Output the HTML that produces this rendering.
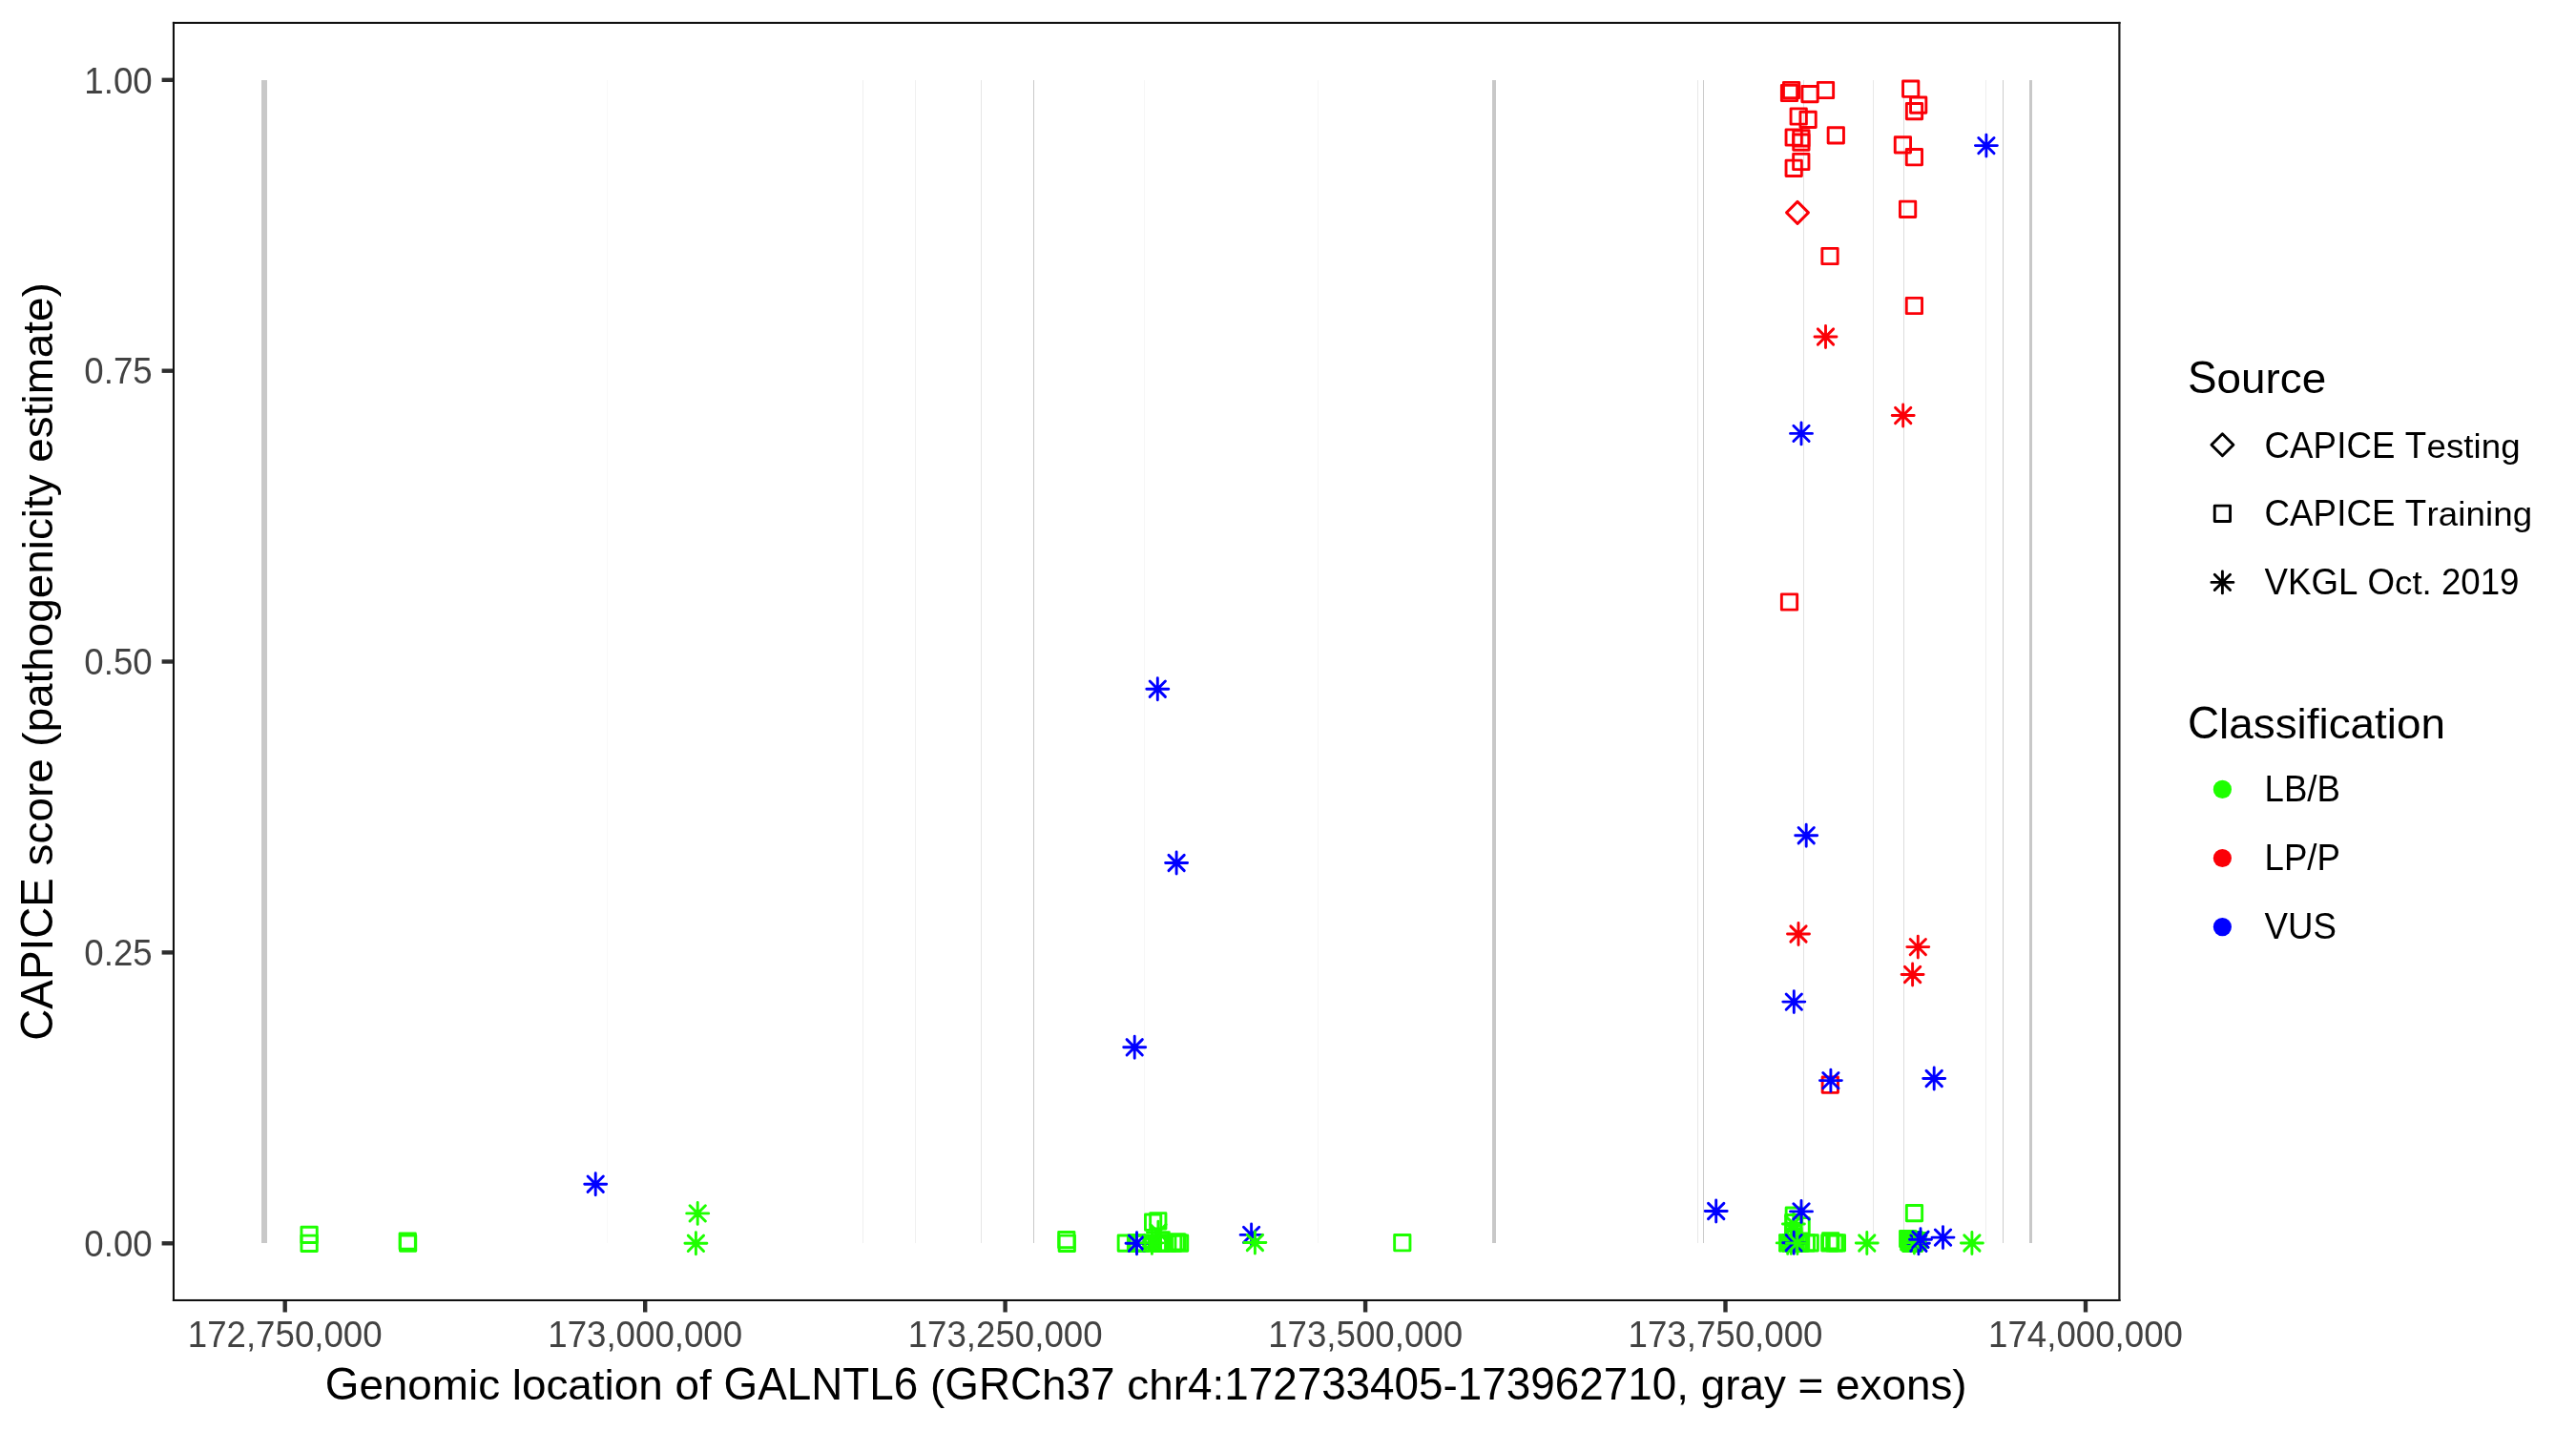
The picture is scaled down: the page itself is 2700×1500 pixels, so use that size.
<!DOCTYPE html>
<html><head><meta charset="utf-8"><title>CAPICE GALNTL6</title>
<style>html,body{margin:0;padding:0;background:#fff;}svg{display:block;font-family:"Liberation Sans",sans-serif;will-change:transform;font-kerning:none;white-space:pre;-webkit-font-smoothing:antialiased;}</style></head><body>
<svg width="2700" height="1500" viewBox="0 0 2700 1500">
<rect width="2700" height="1500" fill="#ffffff"/>
<g shape-rendering="crispEdges">
<rect x="274.0" y="83.9" width="5.90" height="1218.90" fill="#c8c8c8"/>
<rect x="636" y="83.9" width="1.00" height="1218.90" fill="#f8f8f8"/>
<rect x="904" y="83.9" width="1.00" height="1218.90" fill="#f0f0f0"/>
<rect x="959" y="83.9" width="1.00" height="1218.90" fill="#f0f0f0"/>
<rect x="1028" y="83.9" width="1.00" height="1218.90" fill="#e6e6e6"/>
<rect x="1083" y="83.9" width="1.00" height="1218.90" fill="#c8c8c8"/>
<rect x="1199" y="83.9" width="1.00" height="1218.90" fill="#f6f6f6"/>
<rect x="1381" y="83.9" width="1.00" height="1218.90" fill="#f6f6f6"/>
<rect x="1564" y="83.9" width="4.00" height="1218.90" fill="#c8c8c8"/>
<rect x="1779" y="83.9" width="1.00" height="1218.90" fill="#e8e8e8"/>
<rect x="1785" y="83.9" width="1.00" height="1218.90" fill="#cccccc"/>
<rect x="1890" y="83.9" width="1.00" height="1218.90" fill="#e2e2e2"/>
<rect x="1963" y="83.9" width="1.00" height="1218.90" fill="#e8e8e8"/>
<rect x="1995" y="83.9" width="1.00" height="1218.90" fill="#dcdcdc"/>
<rect x="2081" y="83.9" width="1.00" height="1218.90" fill="#eeeeee"/>
<rect x="2099" y="83.9" width="1.00" height="1218.90" fill="#cccccc"/>
<rect x="2127" y="83.9" width="3.00" height="1218.90" fill="#c8c8c8"/>
</g>
<g fill="none" stroke-width="2.9" stroke-linecap="round" stroke-linejoin="round">
<rect x="315.95" y="1286.25" width="16.30" height="16.30" stroke="#1eff00"/>
<rect x="315.95" y="1295.15" width="16.30" height="16.30" stroke="#1eff00"/>
<rect x="419.05" y="1292.95" width="16.30" height="16.30" stroke="#1eff00"/>
<rect x="419.45" y="1295.05" width="16.30" height="16.30" stroke="#1eff00"/>
<path d="M616.05 1233.05L632.35 1249.35M616.05 1249.35L632.35 1233.05M612.70 1241.20L635.70 1241.20M624.20 1229.70L624.20 1252.70" stroke="#0000ff"/>
<path d="M723.05 1263.75L739.35 1280.05M723.05 1280.05L739.35 1263.75M719.70 1271.90L742.70 1271.90M731.20 1260.40L731.20 1283.40" stroke="#1eff00"/>
<path d="M721.25 1295.15L737.55 1311.45M721.25 1311.45L737.55 1295.15M717.90 1303.30L740.90 1303.30M729.40 1291.80L729.40 1314.80" stroke="#1eff00"/>
<rect x="1109.65" y="1291.45" width="16.30" height="16.30" stroke="#1eff00"/>
<rect x="1110.15" y="1295.15" width="16.30" height="16.30" stroke="#1eff00"/>
<rect x="1172.15" y="1294.95" width="16.30" height="16.30" stroke="#1eff00"/>
<rect x="1182.35" y="1294.95" width="16.30" height="16.30" stroke="#1eff00"/>
<rect x="1184.15" y="1294.95" width="16.30" height="16.30" stroke="#1eff00"/>
<rect x="1187.85" y="1294.95" width="16.30" height="16.30" stroke="#1eff00"/>
<path d="M1183.35 1295.05L1199.65 1311.35M1183.35 1311.35L1199.65 1295.05M1180.00 1303.20L1203.00 1303.20M1191.50 1291.70L1191.50 1314.70" stroke="#0000ff"/>
<rect x="1200.45" y="1273.05" width="16.30" height="16.30" stroke="#1eff00"/>
<rect x="1205.65" y="1271.65" width="16.30" height="16.30" stroke="#1eff00"/>
<path d="M1205.75 1283.65L1222.05 1299.95M1205.75 1299.95L1222.05 1283.65M1202.40 1291.80L1225.40 1291.80M1213.90 1280.30L1213.90 1303.30" stroke="#1eff00"/>
<rect x="1204.50" y="1295.00" width="11" height="16.5" fill="#1eff00" stroke="none"/>
<rect x="1200.25" y="1294.95" width="16.30" height="16.30" stroke="#1eff00"/>
<rect x="1207.55" y="1294.95" width="16.30" height="16.30" stroke="#1eff00"/>
<rect x="1209.35" y="1294.95" width="16.30" height="16.30" stroke="#1eff00"/>
<rect x="1215.65" y="1294.95" width="16.30" height="16.30" stroke="#1eff00"/>
<rect x="1221.55" y="1294.95" width="16.30" height="16.30" stroke="#1eff00"/>
<rect x="1224.85" y="1293.85" width="16.30" height="16.30" stroke="#1eff00"/>
<rect x="1225.85" y="1293.85" width="16.30" height="16.30" stroke="#1eff00"/>
<rect x="1228.45" y="1294.95" width="16.30" height="16.30" stroke="#1eff00"/>
<path d="M1199.25 1294.75L1215.55 1311.05M1199.25 1311.05L1215.55 1294.75M1195.90 1302.90L1218.90 1302.90M1207.40 1291.40L1207.40 1314.40" stroke="#1eff00"/>
<path d="M1205.15 714.05L1221.45 730.35M1205.15 730.35L1221.45 714.05M1201.80 722.20L1224.80 722.20M1213.30 710.70L1213.30 733.70" stroke="#0000ff"/>
<path d="M1224.95 896.35L1241.25 912.65M1224.95 912.65L1241.25 896.35M1221.60 904.50L1244.60 904.50M1233.10 893.00L1233.10 916.00" stroke="#0000ff"/>
<path d="M1181.05 1089.65L1197.35 1105.95M1181.05 1105.95L1197.35 1089.65M1177.70 1097.80L1200.70 1097.80M1189.20 1086.30L1189.20 1109.30" stroke="#0000ff"/>
<path d="M1303.45 1286.25L1319.75 1302.55M1303.45 1302.55L1319.75 1286.25M1300.10 1294.40L1323.10 1294.40M1311.60 1282.90L1311.60 1305.90" stroke="#0000ff"/>
<path d="M1307.25 1294.35L1323.55 1310.65M1307.25 1310.65L1323.55 1294.35M1303.90 1302.50L1326.90 1302.50M1315.40 1291.00L1315.40 1314.00" stroke="#1eff00"/>
<rect x="1461.65" y="1294.55" width="16.30" height="16.30" stroke="#1eff00"/>
<rect x="1869.45" y="86.35" width="16.30" height="16.30" stroke="#fb0007"/>
<rect x="1867.35" y="89.35" width="16.30" height="16.30" stroke="#fb0007"/>
<rect x="1888.85" y="90.45" width="16.30" height="16.30" stroke="#fb0007"/>
<rect x="1905.35" y="86.35" width="16.30" height="16.30" stroke="#fb0007"/>
<rect x="1877.05" y="113.85" width="16.30" height="16.30" stroke="#fb0007"/>
<rect x="1886.95" y="117.25" width="16.30" height="16.30" stroke="#fb0007"/>
<rect x="1916.15" y="133.75" width="16.30" height="16.30" stroke="#fb0007"/>
<rect x="1872.05" y="135.85" width="16.30" height="16.30" stroke="#fb0007"/>
<rect x="1879.75" y="136.75" width="16.30" height="16.30" stroke="#fb0007"/>
<rect x="1879.75" y="140.95" width="16.30" height="16.30" stroke="#fb0007"/>
<rect x="1879.65" y="161.35" width="16.30" height="16.30" stroke="#fb0007"/>
<rect x="1872.05" y="168.15" width="16.30" height="16.30" stroke="#fb0007"/>
<rect x="1994.55" y="85.05" width="16.30" height="16.30" stroke="#fb0007"/>
<rect x="2002.55" y="101.95" width="16.30" height="16.30" stroke="#fb0007"/>
<rect x="1998.35" y="108.45" width="16.30" height="16.30" stroke="#fb0007"/>
<rect x="1986.25" y="143.75" width="16.30" height="16.30" stroke="#fb0007"/>
<rect x="1998.25" y="156.55" width="16.30" height="16.30" stroke="#fb0007"/>
<rect x="1991.45" y="211.15" width="16.30" height="16.30" stroke="#fb0007"/>
<rect x="1909.85" y="260.35" width="16.30" height="16.30" stroke="#fb0007"/>
<rect x="1998.25" y="312.35" width="16.30" height="16.30" stroke="#fb0007"/>
<rect x="1867.35" y="622.85" width="16.30" height="16.30" stroke="#fb0007"/>
<path d="M1872.50 222.90L1884.00 211.40L1895.50 222.90L1884.00 234.40Z" stroke="#fb0007"/>
<path d="M2073.75 144.45L2090.05 160.75M2073.75 160.75L2090.05 144.45M2070.40 152.60L2093.40 152.60M2081.90 141.10L2081.90 164.10" stroke="#0000ff"/>
<path d="M1905.35 344.85L1921.65 361.15M1905.35 361.15L1921.65 344.85M1902.00 353.00L1925.00 353.00M1913.50 341.50L1913.50 364.50" stroke="#fb0007"/>
<path d="M1986.55 427.35L2002.85 443.65M1986.55 443.65L2002.85 427.35M1983.20 435.50L2006.20 435.50M1994.70 424.00L1994.70 447.00" stroke="#fb0007"/>
<path d="M1879.85 446.25L1896.15 462.55M1879.85 462.55L1896.15 446.25M1876.50 454.40L1899.50 454.40M1888.00 442.90L1888.00 465.90" stroke="#0000ff"/>
<path d="M1885.05 867.55L1901.35 883.85M1885.05 883.85L1901.35 867.55M1881.70 875.70L1904.70 875.70M1893.20 864.20L1893.20 887.20" stroke="#0000ff"/>
<path d="M1876.85 970.85L1893.15 987.15M1876.85 987.15L1893.15 970.85M1873.50 979.00L1896.50 979.00M1885.00 967.50L1885.00 990.50" stroke="#fb0007"/>
<path d="M2002.15 984.45L2018.45 1000.75M2002.15 1000.75L2018.45 984.45M1998.80 992.60L2021.80 992.60M2010.30 981.10L2010.30 1004.10" stroke="#fb0007"/>
<path d="M1996.45 1013.35L2012.75 1029.65M1996.45 1029.65L2012.75 1013.35M1993.10 1021.50L2016.10 1021.50M2004.60 1010.00L2004.60 1033.00" stroke="#fb0007"/>
<path d="M1872.15 1041.95L1888.45 1058.25M1872.15 1058.25L1888.45 1041.95M1868.80 1050.10L1891.80 1050.10M1880.30 1038.60L1880.30 1061.60" stroke="#0000ff"/>
<rect x="1910.15" y="1129.05" width="16.30" height="16.30" stroke="#fb0007"/>
<path d="M1910.75 1124.45L1927.05 1140.75M1910.75 1140.75L1927.05 1124.45M1907.40 1132.60L1930.40 1132.60M1918.90 1121.10L1918.90 1144.10" stroke="#0000ff"/>
<path d="M2019.05 1122.35L2035.35 1138.65M2019.05 1138.65L2035.35 1122.35M2015.70 1130.50L2038.70 1130.50M2027.20 1119.00L2027.20 1142.00" stroke="#0000ff"/>
<path d="M1790.55 1261.35L1806.85 1277.65M1790.55 1277.65L1806.85 1261.35M1787.20 1269.50L1810.20 1269.50M1798.70 1258.00L1798.70 1281.00" stroke="#0000ff"/>
<rect x="1872.15" y="1265.95" width="16.30" height="16.30" stroke="#1eff00"/>
<rect x="1871.65" y="1273.45" width="16.30" height="16.30" stroke="#1eff00"/>
<rect x="1879.95" y="1276.65" width="16.30" height="16.30" stroke="#1eff00"/>
<rect x="1871.65" y="1284.85" width="16.30" height="16.30" stroke="#1eff00"/>
<rect x="1871.65" y="1287.85" width="16.30" height="16.30" stroke="#1eff00"/>
<rect x="1871.65" y="1290.85" width="16.30" height="16.30" stroke="#1eff00"/>
<path d="M1871.75 1274.85L1888.05 1291.15M1871.75 1291.15L1888.05 1274.85M1868.40 1283.00L1891.40 1283.00M1879.90 1271.50L1879.90 1294.50" stroke="#1eff00"/>
<rect x="1865.55" y="1294.75" width="16.30" height="16.30" stroke="#1eff00"/>
<rect x="1868.35" y="1294.75" width="16.30" height="16.30" stroke="#1eff00"/>
<rect x="1871.35" y="1294.75" width="16.30" height="16.30" stroke="#1eff00"/>
<rect x="1873.85" y="1294.75" width="16.30" height="16.30" stroke="#1eff00"/>
<rect x="1876.35" y="1294.75" width="16.30" height="16.30" stroke="#1eff00"/>
<rect x="1878.35" y="1294.75" width="16.30" height="16.30" stroke="#1eff00"/>
<rect x="1879.45" y="1294.75" width="16.30" height="16.30" stroke="#1eff00"/>
<rect x="1885.15" y="1294.75" width="16.30" height="16.30" stroke="#1eff00"/>
<rect x="1889.05" y="1294.75" width="16.30" height="16.30" stroke="#1eff00"/>
<path d="M1865.55 1294.75L1881.85 1311.05M1865.55 1311.05L1881.85 1294.75M1862.20 1302.90L1885.20 1302.90M1873.70 1291.40L1873.70 1314.40" stroke="#1eff00"/>
<path d="M1869.15 1294.75L1885.45 1311.05M1869.15 1311.05L1885.45 1294.75M1865.80 1302.90L1888.80 1302.90M1877.30 1291.40L1877.30 1314.40" stroke="#1eff00"/>
<path d="M1872.05 1294.55L1888.35 1310.85M1872.05 1310.85L1888.35 1294.55M1868.70 1302.70L1891.70 1302.70M1880.20 1291.20L1880.20 1314.20" stroke="#0000ff"/>
<path d="M1875.75 1294.85L1892.05 1311.15M1875.75 1311.15L1892.05 1294.85M1872.40 1303.00L1895.40 1303.00M1883.90 1291.50L1883.90 1314.50" stroke="#1eff00"/>
<rect x="1909.65" y="1294.75" width="16.30" height="16.30" stroke="#1eff00"/>
<rect x="1910.55" y="1292.75" width="16.30" height="16.30" stroke="#1eff00"/>
<rect x="1914.75" y="1294.75" width="16.30" height="16.30" stroke="#1eff00"/>
<rect x="1917.25" y="1294.75" width="16.30" height="16.30" stroke="#1eff00"/>
<path d="M1879.85 1261.75L1896.15 1278.05M1879.85 1278.05L1896.15 1261.75M1876.50 1269.90L1899.50 1269.90M1888.00 1258.40L1888.00 1281.40" stroke="#0000ff"/>
<path d="M1948.65 1294.85L1964.95 1311.15M1948.65 1311.15L1964.95 1294.85M1945.30 1303.00L1968.30 1303.00M1956.80 1291.50L1956.80 1314.50" stroke="#1eff00"/>
<rect x="1998.35" y="1263.45" width="16.30" height="16.30" stroke="#1eff00"/>
<rect x="1991.55" y="1290.35" width="16.30" height="16.30" stroke="#1eff00"/>
<rect x="1993.05" y="1291.65" width="16.30" height="16.30" stroke="#1eff00"/>
<rect x="1994.55" y="1295.25" width="16.30" height="16.30" stroke="#1eff00"/>
<rect x="1996.35" y="1293.35" width="16.30" height="16.30" stroke="#1eff00"/>
<rect x="1998.25" y="1295.25" width="16.30" height="16.30" stroke="#1eff00"/>
<rect x="2000.15" y="1292.85" width="16.30" height="16.30" stroke="#1eff00"/>
<rect x="2001.95" y="1292.45" width="16.30" height="16.30" stroke="#1eff00"/>
<rect x="1995.35" y="1292.35" width="16.30" height="16.30" stroke="#1eff00"/>
<rect x="1992.65" y="1293.65" width="16.30" height="16.30" stroke="#1eff00"/>
<rect x="1997.85" y="1291.35" width="16.30" height="16.30" stroke="#1eff00"/>
<path d="M2002.75 1295.05L2019.05 1311.35M2002.75 1311.35L2019.05 1295.05M1999.40 1303.20L2022.40 1303.20M2010.90 1291.70L2010.90 1314.70" stroke="#0000ff"/>
<path d="M1998.25 1294.45L2014.55 1310.75M1998.25 1310.75L2014.55 1294.45M1994.90 1302.60L2017.90 1302.60M2006.40 1291.10L2006.40 1314.10" stroke="#1eff00"/>
<path d="M2004.85 1291.15L2021.15 1307.45M2004.85 1307.45L2021.15 1291.15M2001.50 1299.30L2024.50 1299.30M2013.00 1287.80L2013.00 1310.80" stroke="#0000ff"/>
<path d="M2028.35 1288.95L2044.65 1305.25M2028.35 1305.25L2044.65 1288.95M2025.00 1297.10L2048.00 1297.10M2036.50 1285.60L2036.50 1308.60" stroke="#0000ff"/>
<path d="M2058.75 1294.85L2075.05 1311.15M2058.75 1311.15L2075.05 1294.85M2055.40 1303.00L2078.40 1303.00M2066.90 1291.50L2066.90 1314.50" stroke="#1eff00"/>
</g>
<g fill="#101010">
<rect x="180.9" y="22.9" width="2041.60" height="2.1"/>
<rect x="180.9" y="1361.95" width="2041.60" height="2.05"/>
<rect x="180.9" y="22.9" width="2.1" height="1341.10"/>
<rect x="2220.3" y="22.9" width="2.2" height="1341.10" fill="#1c1c1c"/>
</g>
<g stroke="#2e2e2e" stroke-width="4.4">
<line x1="169.60" y1="83.8" x2="181.1" y2="83.8"/>
<line x1="169.60" y1="388.7" x2="181.1" y2="388.7"/>
<line x1="169.60" y1="693.5" x2="181.1" y2="693.5"/>
<line x1="169.60" y1="998.4" x2="181.1" y2="998.4"/>
<line x1="169.60" y1="1303.3" x2="181.1" y2="1303.3"/>
<line x1="298.7" y1="1364.0" x2="298.7" y2="1375.50"/>
<line x1="676.2" y1="1364.0" x2="676.2" y2="1375.50"/>
<line x1="1053.6" y1="1364.0" x2="1053.6" y2="1375.50"/>
<line x1="1431.1" y1="1364.0" x2="1431.1" y2="1375.50"/>
<line x1="1808.5" y1="1364.0" x2="1808.5" y2="1375.50"/>
<line x1="2186.0" y1="1364.0" x2="2186.0" y2="1375.50"/>
</g>
<g font-size="36.67" fill="#424242">
<g transform="translate(159.70 97.55)"><text transform="translate(-71.37 0) scale(1 1.043)" xml:space="preserve">1</text><text transform="translate(-50.98 0) scale(1 0.962)" xml:space="preserve">.</text><text transform="translate(-40.79 0) scale(1 1.043)" xml:space="preserve">00</text></g>
<g transform="translate(159.70 402.45)"><text transform="translate(-71.37 0) scale(1 1.043)" xml:space="preserve">0</text><text transform="translate(-50.98 0) scale(1 0.962)" xml:space="preserve">.</text><text transform="translate(-40.79 0) scale(1 1.043)" xml:space="preserve">75</text></g>
<g transform="translate(159.70 707.25)"><text transform="translate(-71.37 0) scale(1 1.043)" xml:space="preserve">0</text><text transform="translate(-50.98 0) scale(1 0.962)" xml:space="preserve">.</text><text transform="translate(-40.79 0) scale(1 1.043)" xml:space="preserve">50</text></g>
<g transform="translate(159.70 1012.15)"><text transform="translate(-71.37 0) scale(1 1.043)" xml:space="preserve">0</text><text transform="translate(-50.98 0) scale(1 0.962)" xml:space="preserve">.</text><text transform="translate(-40.79 0) scale(1 1.043)" xml:space="preserve">25</text></g>
<g transform="translate(159.70 1317.05)"><text transform="translate(-71.37 0) scale(1 1.043)" xml:space="preserve">0</text><text transform="translate(-50.98 0) scale(1 0.962)" xml:space="preserve">.</text><text transform="translate(-40.79 0) scale(1 1.043)" xml:space="preserve">00</text></g>
<g transform="translate(298.70 1412.20)"><text transform="translate(-101.96 0) scale(1 1.043)" xml:space="preserve">172</text><text transform="translate(-40.78 0) scale(1 0.962)" xml:space="preserve">,</text><text transform="translate(-30.59 0) scale(1 1.043)" xml:space="preserve">750</text><text transform="translate(30.59 0) scale(1 0.962)" xml:space="preserve">,</text><text transform="translate(40.78 0) scale(1 1.043)" xml:space="preserve">000</text></g>
<g transform="translate(676.20 1412.20)"><text transform="translate(-101.96 0) scale(1 1.043)" xml:space="preserve">173</text><text transform="translate(-40.78 0) scale(1 0.962)" xml:space="preserve">,</text><text transform="translate(-30.59 0) scale(1 1.043)" xml:space="preserve">000</text><text transform="translate(30.59 0) scale(1 0.962)" xml:space="preserve">,</text><text transform="translate(40.78 0) scale(1 1.043)" xml:space="preserve">000</text></g>
<g transform="translate(1053.60 1412.20)"><text transform="translate(-101.96 0) scale(1 1.043)" xml:space="preserve">173</text><text transform="translate(-40.78 0) scale(1 0.962)" xml:space="preserve">,</text><text transform="translate(-30.59 0) scale(1 1.043)" xml:space="preserve">250</text><text transform="translate(30.59 0) scale(1 0.962)" xml:space="preserve">,</text><text transform="translate(40.78 0) scale(1 1.043)" xml:space="preserve">000</text></g>
<g transform="translate(1431.10 1412.20)"><text transform="translate(-101.96 0) scale(1 1.043)" xml:space="preserve">173</text><text transform="translate(-40.78 0) scale(1 0.962)" xml:space="preserve">,</text><text transform="translate(-30.59 0) scale(1 1.043)" xml:space="preserve">500</text><text transform="translate(30.59 0) scale(1 0.962)" xml:space="preserve">,</text><text transform="translate(40.78 0) scale(1 1.043)" xml:space="preserve">000</text></g>
<g transform="translate(1808.50 1412.20)"><text transform="translate(-101.96 0) scale(1 1.043)" xml:space="preserve">173</text><text transform="translate(-40.78 0) scale(1 0.962)" xml:space="preserve">,</text><text transform="translate(-30.59 0) scale(1 1.043)" xml:space="preserve">750</text><text transform="translate(30.59 0) scale(1 0.962)" xml:space="preserve">,</text><text transform="translate(40.78 0) scale(1 1.043)" xml:space="preserve">000</text></g>
<g transform="translate(2186.00 1412.20)"><text transform="translate(-101.96 0) scale(1 1.043)" xml:space="preserve">174</text><text transform="translate(-40.78 0) scale(1 0.962)" xml:space="preserve">,</text><text transform="translate(-30.59 0) scale(1 1.043)" xml:space="preserve">000</text><text transform="translate(30.59 0) scale(1 0.962)" xml:space="preserve">,</text><text transform="translate(40.78 0) scale(1 1.043)" xml:space="preserve">000</text></g>
</g>
<g font-size="45.83" fill="#000000">
<g transform="translate(1201.20 1466.90)"><text transform="translate(-860.46 0) scale(1 1.043)" xml:space="preserve">G</text><text transform="translate(-824.82 0) scale(1 0.962)" xml:space="preserve">enomic location of </text><text transform="translate(-442.69 0) scale(1 1.043)" xml:space="preserve">GALNTL6 </text><text transform="translate(-226.18 0) scale(1 0.962)" xml:space="preserve">(</text><text transform="translate(-210.92 0) scale(1 1.043)" xml:space="preserve">GRC</text><text transform="translate(-109.08 0) scale(1 0.962)" xml:space="preserve">h</text><text transform="translate(-83.59 0) scale(1 1.043)" xml:space="preserve">37 </text><text transform="translate(-19.88 0) scale(1 0.962)" xml:space="preserve">chr</text><text transform="translate(43.78 0) scale(1 1.043)" xml:space="preserve">4</text><text transform="translate(69.27 0) scale(1 0.962)" xml:space="preserve">:</text><text transform="translate(82.00 0) scale(1 1.043)" xml:space="preserve">172733405</text><text transform="translate(311.40 0) scale(1 0.962)" xml:space="preserve">-</text><text transform="translate(326.66 0) scale(1 1.043)" xml:space="preserve">173962710</text><text transform="translate(556.06 0) scale(1 0.962)" xml:space="preserve">, gray = exons)</text></g>
<g transform="translate(55.20 693.40) rotate(-90)"><text transform="translate(-397.35 0) scale(1 1.043)" xml:space="preserve">CAPICE </text><text transform="translate(-213.99 0) scale(1 0.962)" xml:space="preserve">score (pathogenicity estimate)</text></g>
<g transform="translate(2293.00 412.20)"><text transform="translate(0.00 0) scale(1 1.043)" xml:space="preserve">S</text><text transform="translate(30.57 0) scale(1 0.962)" xml:space="preserve">ource</text></g>
<g transform="translate(2293.00 773.60)"><text transform="translate(0.00 0) scale(1 1.043)" xml:space="preserve">C</text><text transform="translate(33.10 0) scale(1 0.962)" xml:space="preserve">lassification</text></g>
</g>
<g font-size="36.67" fill="#000000">
<g transform="translate(2373.50 479.50)"><text transform="translate(0.00 0) scale(1 1.043)" letter-spacing="0.100" xml:space="preserve">CAPICE T</text><text transform="translate(169.92 0) scale(1 0.962)" letter-spacing="0.100" xml:space="preserve">esting</text></g>
<g transform="translate(2373.50 551.30)"><text transform="translate(0.00 0) scale(1 1.043)" letter-spacing="0.100" xml:space="preserve">CAPICE T</text><text transform="translate(169.92 0) scale(1 0.962)" letter-spacing="0.100" xml:space="preserve">raining</text></g>
<g transform="translate(2373.50 623.20)"><text transform="translate(0.00 0) scale(1 1.043)" xml:space="preserve">VKGL O</text><text transform="translate(136.55 0) scale(1 0.962)" xml:space="preserve">ct. </text><text transform="translate(185.44 0) scale(1 1.043)" xml:space="preserve">2019</text></g>
<g transform="translate(2373.50 839.90)"><text transform="translate(0.00 0) scale(1 1.043)" xml:space="preserve">LB/B</text></g>
<g transform="translate(2373.50 911.90)"><text transform="translate(0.00 0) scale(1 1.043)" xml:space="preserve">LP/P</text></g>
<g transform="translate(2373.50 984.00)"><text transform="translate(0.00 0) scale(1 1.043)" xml:space="preserve">VUS</text></g>
</g>
<g fill="none" stroke-width="2.9" stroke-linecap="round" stroke-linejoin="round">
<path d="M2317.90 466.30L2329.40 454.80L2340.90 466.30L2329.40 477.80Z" stroke="#000000"/>
<rect x="2321.25" y="530.15" width="16.30" height="16.30" stroke="#000000"/>
<path d="M2321.25 602.25L2337.55 618.55M2321.25 618.55L2337.55 602.25M2317.90 610.40L2340.90 610.40M2329.40 598.90L2329.40 621.90" stroke="#000000"/>
<circle cx="2329.40" cy="827.40" r="9.60" fill="#1eff00" stroke="none"/>
<circle cx="2329.40" cy="899.50" r="9.60" fill="#fb0007" stroke="none"/>
<circle cx="2329.40" cy="971.60" r="9.60" fill="#0000ff" stroke="none"/>
</g>
</svg></body></html>
